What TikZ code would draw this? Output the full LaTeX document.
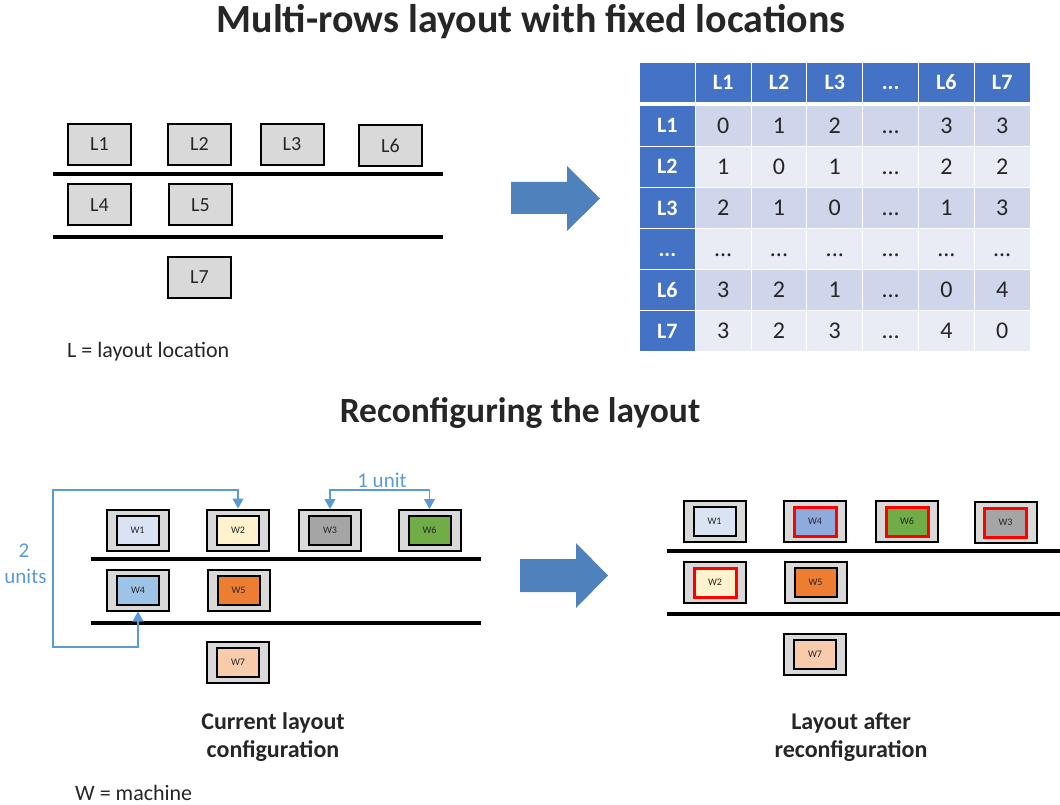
\documentclass[tikz,border=0pt]{standalone}
\usepackage{fontspec}
\setmainfont{Carlito}
\usetikzlibrary{arrows.meta}

\definecolor{boxgray}{HTML}{D9D9D9}
\definecolor{tblue}{HTML}{4472C4}
\definecolor{darkrow}{HTML}{CFD5EA}
\definecolor{lightrow}{HTML}{E9EBF5}
\definecolor{bigblue}{HTML}{4F81BD}
\definecolor{unitblue}{HTML}{5B9BD5}
\definecolor{txt}{HTML}{262626}
\definecolor{wone}{HTML}{DAE3F3}
\definecolor{wtwo}{HTML}{FFF2CC}
\definecolor{wthree}{HTML}{A5A5A5}
\definecolor{wfour}{HTML}{9DC3E6}
\definecolor{wfourb}{HTML}{8FAADC}
\definecolor{wfive}{HTML}{ED7D31}
\definecolor{wsix}{HTML}{70AD47}
\definecolor{wseven}{HTML}{F8CBAD}

\newcommand{\tdots}{...}

\tikzset{
  slot/.style={draw, line width=2pt, fill=boxgray, minimum width=63pt, minimum height=41pt, inner sep=0pt, text=txt, font=\fontsize{20}{22}\selectfont},
  frame/.style={draw, line width=2pt, fill=boxgray, minimum width=62pt, minimum height=41pt, inner sep=0pt},
  mach/.style={draw, line width=2pt, minimum width=42pt, minimum height=29pt, inner sep=0pt, text=txt, font=\fontsize{10}{11}\selectfont},
  moved/.style={mach, draw=red, line width=3pt},
  rail/.style={line width=4pt},
  unitline/.style={draw=unitblue, line width=1.2pt, {Triangle[width=11pt,length=10pt]}-{Triangle[width=11pt,length=10pt]}},
  unittext/.style={text=unitblue, font=\fontsize{21}{23}\selectfont},
  hcell/.style={fill=tblue, text=white, minimum width=54.8pt, minimum height=39pt, inner sep=0pt, text height=14pt, text depth=0pt, font=\bfseries\fontsize{22}{24}\selectfont},
  dcell/.style={minimum width=54.8pt, minimum height=40pt, inner sep=0pt, text height=15pt, text depth=0pt, text=txt, font=\fontsize{24}{26}\selectfont},
  caption/.style={align=center, text=txt, font=\bfseries\fontsize{24}{28}\selectfont},
  legend/.style={anchor=base west, inner sep=0pt, text=txt, font=\fontsize{22}{24}\selectfont}
}

\begin{document}
\begin{tikzpicture}[x=1pt,y=1pt,yscale=-1]
    \useasboundingbox (0,0) rectangle (1060,805);

    % Titles
    \node [anchor=base, text=txt, font=\bfseries\fontsize{40}{44}\selectfont] (title) at (531,33) {Multi-rows layout with fixed locations};
    \node [anchor=base, text=txt, font=\bfseries\fontsize{35.5}{40}\selectfont] (subtitle) at (520,422) {Reconfiguring the layout};

    %Layout locations
    \draw [rail] (53,174) -- (443,174);
    \draw [rail] (53,237) -- (443,237);
    \node [slot] (L1) at (99.5,144.5) {L1};
    \node [slot] (L2) at (199.5,144.5) {L2};
    \node [slot] (L3) at (292,144.5) {L3};
    \node [slot] (L6) at (390.5,145.5) {L6};
    \node [slot] (L4) at (99.5,205) {L4};
    \node [slot] (L5) at (200.5,205) {L5};
    \node [slot] (L7) at (199.5,277.5) {L7};
    % Text Node
    \node [legend] (legL) at (67,357) {L = layout location};

    %Block arrows
    \fill [bigblue] (511,182) -- (567,182) -- (567,166) -- (600,198.5) -- (567,231) -- (567,214) -- (511,214) -- cycle;
    \fill [bigblue] (520,559) -- (576,559) -- (576,543) -- (608,575.5) -- (576,608) -- (576,592) -- (520,592) -- cycle;

    %Distance table
    \node [hcell] (c0-0) at (667.4,82.5) {};
    \foreach \lab [count=\i] in {L1,L2,L3,\tdots,L6,L7}
      \node [hcell] (c0-\i) at ({667.4+55.8*\i},82.5) {\lab};
    \foreach \lab/\shade/\vals [count=\r] in {L1/darkrow/{0,1,2,\tdots,3,3}, L2/lightrow/{1,0,1,\tdots,2,2}, L3/darkrow/{2,1,0,\tdots,1,3}, \tdots/lightrow/{\tdots,\tdots,\tdots,\tdots,\tdots,\tdots}, L6/darkrow/{3,2,1,\tdots,0,4}, L7/lightrow/{3,2,3,\tdots,4,0}}
    {
      \node [hcell, minimum height=40pt] (c\r-0) at (667.4,{85+41*\r}) {\lab};
      \foreach \v [count=\i] in \vals
        \node [dcell, fill=\shade] (c\r-\i) at ({667.4+55.8*\i},{85+41*\r}) {\v};
    }

    %Current layout
    \draw [rail] (91,559) -- (481,559);
    \draw [rail] (91,623) -- (481,623);
    \node [frame] (f1) at (137.5,530) {};
    \node [mach, fill=wone] (w1) at (f1) {W1};
    \node [frame] (f2) at (238,530) {};
    \node [mach, fill=wtwo] (w2) at (f2) {W2};
    \node [frame] (f3) at (330,530.5) {};
    \node [mach, fill=wthree] (w3) at (f3) {W3};
    \node [frame] (f6) at (429.5,530.5) {};
    \node [mach, fill=wsix] (w6) at (f6) {W6};
    \node [frame] (f4) at (138,590) {};
    \node [mach, fill=wfour] (w4) at (f4) {W4};
    \node [frame] (f5) at (238.5,590) {};
    \node [mach, fill=wfive] (w5) at (f5) {W5};
    \node [frame] (f7) at (238,662.5) {};
    \node [mach, fill=wseven] (w7) at (f7) {W7};

    %Distances
    \coordinate (lowL) at (53,647);
    \coordinate (topL) at (53,490);
    \draw [unitline] (f4.south) |- (lowL) -- (topL) -| (f2.north);
    \draw [unitline] (f3.north) -- ++(0,-19) -| (f6.north);
    \node [anchor=base, unittext] (oneunit) at (382,487) {1 unit};
    \node [anchor=base, unittext] (twounits) at (24,557) {2};
    \node [anchor=base, unittext] (twounitsb) at (25.5,583) {units};

    %Layout after reconfiguration
    \draw [rail] (667,551) -- (1060,551);
    \draw [rail] (667,614) -- (1060,614);
    \node [frame] (g1) at (714.5,521.5) {};
    \node [mach, fill=wone] (v1) at (g1) {W1};
    \node [frame] (g4) at (815,521.5) {};
    \node [moved, fill=wfourb] (v4) at (g4) {W4};
    \node [frame] (g6) at (907,521.5) {};
    \node [moved, fill=wsix] (v6) at (g6) {W6};
    \node [frame] (g3) at (1005.5,522.5) {};
    \node [moved, fill=wthree] (v3) at (g3) {W3};
    \node [frame] (g2) at (715,582.5) {};
    \node [moved, fill=wtwo] (v2) at (g2) {W2};
    \node [frame] (g5) at (815.5,582.5) {};
    \node [mach, fill=wfive] (v5) at (g5) {W5};
    \node [frame] (g7) at (815,654.5) {};
    \node [mach, fill=wseven] (v7) at (g7) {W7};

    % Text Node
    \node [caption] (capL) at (273,737) {Current layout\\configuration};
    \node [caption] (capR) at (851,737) {Layout after\\reconfiguration};
    \node [legend] (legW) at (75,800) {W = machine};

\end{tikzpicture}
\end{document}
